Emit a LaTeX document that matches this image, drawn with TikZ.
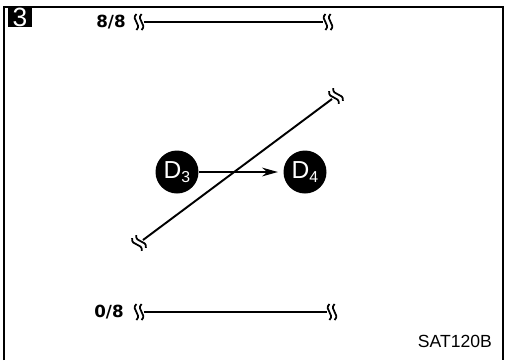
\documentclass[tikz,border=0pt]{standalone}
\usepackage{fontspec}
\setmainfont{Liberation Sans}
\newfontfamily\ratiofont{DejaVu Sans}
\usepackage{tikz}
\usetikzlibrary{arrows,arrows.meta,positioning,calc}
\tikzset{
    dnode/.style={
        circle,
        fill=black,
        text=white,
        minimum size=0.86cm,
        inner sep=0pt,
        font=\fontsize{14}{16}\selectfont
    },
    ratiolabel/.style={
        font=\ratiofont\bfseries\fontsize{9.5}{11}\selectfont
    },
    scaleline/.style={
        line width=1.1pt
    },
    brk/.pic={
        \foreach \d in {-2.6,2.6}
            \draw[line width=1pt] (\d,-8) .. controls (\d-6,-2) and (\d+6,2) .. (\d,8);
    }
}

\begin{document}
\begin{tikzpicture}[x=0.02cm,y=-0.02cm]
    \useasboundingbox (0,0) rectangle (507,360);
    % Frame
    \draw[line width=0.9pt] (4,360) -- (4,7) -- (503,7) -- (503,360);
    \node[fill=black, text=white, minimum width=0.5cm, minimum height=0.4cm,
          inner sep=0pt, font=\fontsize{15}{16}\selectfont] (num) at (20,17) {3};

    % Top scale
    \node[ratiolabel] (full) at (111,22) {8/8};
    \coordinate (full_l) at (144,22);
    \coordinate (full_r) at (323,22);
    \draw[scaleline] (full_l) -- (full_r);
    \pic at (139,22) {brk};
    \pic at (328,22) {brk};

    % Bottom scale
    \node[ratiolabel] (empty) at (109,312) {0/8};
    \coordinate (empty_l) at (144,312);
    \coordinate (empty_r) at (327,312);
    \draw[scaleline] (empty_l) -- (empty_r);
    \pic at (139,312) {brk};
    \pic at (332,312) {brk};

    % Diagonal
    \coordinate (diag_l) at (143,240);
    \coordinate (diag_r) at (332,99);
    \draw[scaleline] (diag_l) -- (diag_r);
    \pic[rotate=37] at (139,243) {brk};
    \pic[rotate=37] at (336,96) {brk};

    % D3 -> D4
    \node[dnode] (d3) at (177,172) {D\raisebox{-0.35ex}{\fontsize{9}{10}\selectfont 3}};
    \node[dnode] (d4) at (305,172) {D\raisebox{-0.35ex}{\fontsize{9}{10}\selectfont 4}};
    \draw[scaleline,-{Stealth[length=9pt,width=5pt]},shorten >=3pt] (d3) -- (d4);

    \node[anchor=east, font=\fontsize{10}{12}\selectfont] (code) at (498,341) {SAT120B};
\end{tikzpicture}
\end{document}
